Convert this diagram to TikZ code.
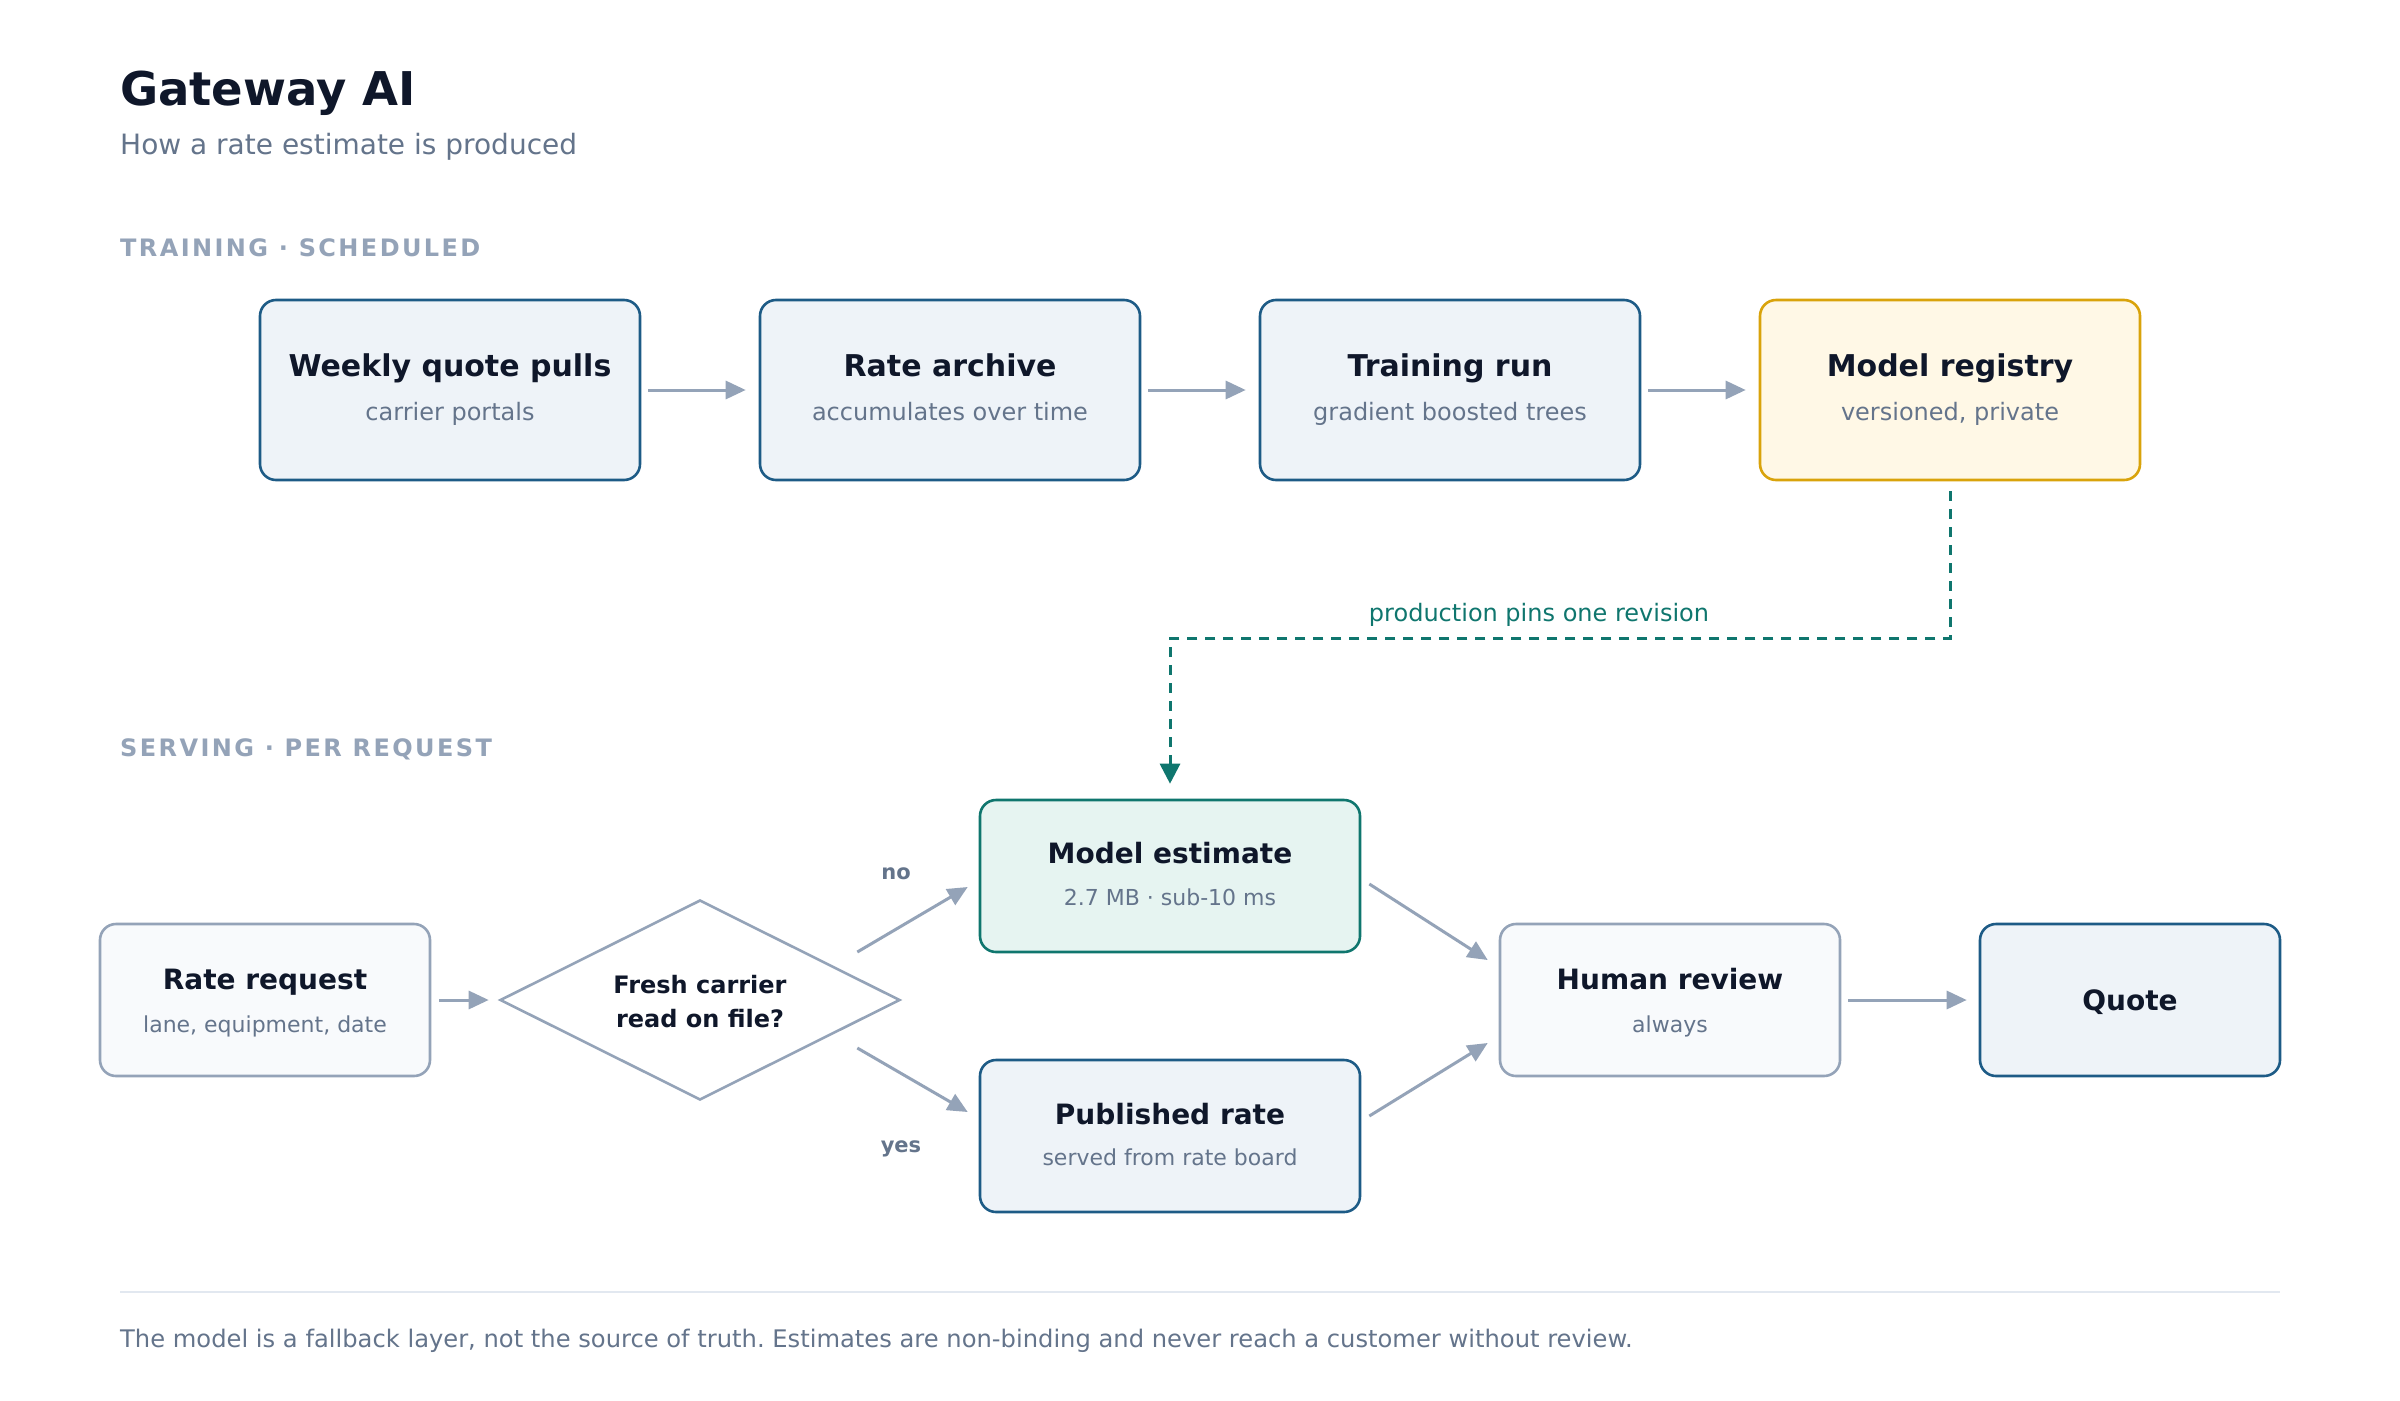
\documentclass[tikz,border=0pt]{standalone}
\usepackage{fontspec}
\setmainfont{DejaVu Sans}
\newfontfamily\lblfont[LetterSpace=10]{DejaVu Sans}
\usetikzlibrary{shapes.geometric,arrows.meta,calc}
\frenchspacing
\definecolor{ink}{HTML}{0F172A}
\definecolor{muted}{HTML}{64748B}
\definecolor{faint}{HTML}{94A3B8}
\definecolor{blueS}{HTML}{1D5B86}
\definecolor{blueF}{HTML}{EEF3F8}
\definecolor{amberS}{HTML}{D9A30B}
\definecolor{amberF}{HTML}{FFF8E6}
\definecolor{tealS}{HTML}{0F766E}
\definecolor{tealF}{HTML}{E6F4F1}
\definecolor{grayF}{HTML}{F8FAFC}
\definecolor{rulec}{HTML}{E2E8F0}
\begin{document}
\begin{tikzpicture}[x=1pt,y=-1pt,
  box/.style={draw, line width=2.6pt, rounded corners=16pt, inner sep=0pt},
  bluebox/.style={box, draw=blueS, fill=blueF},
  amberbox/.style={box, draw=amberS, fill=amberF},
  tealbox/.style={box, draw=tealS, fill=tealF},
  graybox/.style={box, draw=faint, fill=grayF},
  topsize/.style={minimum width=380pt, minimum height=180pt},
  botsize/.style={minimum height=152pt},
  txt/.style={anchor=base, inner sep=0pt},
  ttlA/.style={txt, text=ink, font=\fontsize{30}{36}\selectfont\bfseries},
  subA/.style={txt, text=muted, font=\fontsize{24}{29}\selectfont},
  ttlB/.style={txt, text=ink, font=\fontsize{28}{34}\selectfont\bfseries},
  subB/.style={txt, text=muted, font=\fontsize{22}{27}\selectfont},
  seclbl/.style={anchor=base west, inner sep=0pt, text=faint, font=\fontsize{24}{29}\lblfont\bfseries},
  branch/.style={txt, text=muted, font=\fontsize{21}{25}\selectfont\bfseries},
  arr/.style={draw=faint, line width=3pt, -{Triangle[length=20pt,width=18pt]}},
  pin/.style={draw=tealS, line width=3pt, dash pattern=on 10pt off 8pt, -{Triangle[length=20pt,width=20pt]}}
]
\useasboundingbox[fill=white] (0,0) rectangle (2400,1400);

% header
\node[anchor=base west, inner sep=0pt, text=ink, font=\fontsize{46.5}{56}\selectfont\bfseries] (title) at (120,105) {Gateway AI};
\node[anchor=base west, inner sep=0pt, text=muted, font=\fontsize{28}{34}\selectfont] (subtitle) at (120,154) {How a rate estimate is produced};

% training row
\node[seclbl] (sec1) at (120,256) {TRAINING · SCHEDULED};
\node[bluebox, topsize] (wqp) at (450,390) {};
\node[bluebox, topsize] (ra) at (950,390) {};
\node[bluebox, topsize] (tr) at (1450,390) {};
\node[amberbox, topsize] (mreg) at (1950,390) {};
\node[ttlA] (wqp-t) at (450,376) {Weekly quote pulls};
\node[subA] (wqp-s) at (450,420) {carrier portals};
\node[ttlA] (ra-t) at (950,376) {Rate archive};
\node[subA] (ra-s) at (950,420) {accumulates over time};
\node[ttlA] (tr-t) at (1450,376) {Training run};
\node[subA] (tr-s) at (1450,420) {gradient boosted trees};
\node[ttlA] (mreg-t) at (1950,376) {Model registry};
\node[subA] (mreg-s) at (1950,420) {versioned, private};

\draw[arr, shorten <=7pt, shorten >=13pt] (wqp.east) -- (ra.west);
\draw[arr, shorten <=7pt, shorten >=13pt] (ra.east) -- (tr.west);
\draw[arr, shorten <=7pt, shorten >=13pt] (tr.east) -- (mreg.west);

% serving row
\node[seclbl] (sec2) at (120,756) {SERVING · PER REQUEST};
\node[graybox, botsize, minimum width=330pt] (rr) at (265,1000) {};
\node[ttlB] (rr-t) at (265,989) {Rate request};
\node[subB] (rr-s) at (265,1032) {lane, equipment, date};

\node[diamond, draw=faint, line width=2.6pt, fill=white, inner sep=0pt, minimum width=400pt, minimum height=200pt] (dec) at (700,1000) {};
\node[txt, text=ink, font=\fontsize{24}{29}\selectfont\bfseries] (dec-t1) at (700,993) {Fresh carrier};
\node[txt, text=ink, font=\fontsize{24}{29}\selectfont\bfseries] (dec-t2) at (700,1027) {read on file?};

\node[tealbox, botsize, minimum width=380pt] (me) at (1170,876) {};
\node[ttlB] (me-t) at (1170,863) {Model estimate};
\node[subB] (me-s) at (1170,905) {2.7 MB · sub-10 ms};

\node[bluebox, botsize, minimum width=380pt] (pr) at (1170,1136) {};
\node[ttlB] (pr-t) at (1170,1124) {Published rate};
\node[subB] (pr-s) at (1170,1165) {served from rate board};

\node[graybox, botsize, minimum width=340pt] (hr) at (1670,1000) {};
\node[ttlB] (hr-t) at (1670,989) {Human review};
\node[subB] (hr-s) at (1670,1032) {always};

\node[bluebox, botsize, minimum width=300pt] (q) at (2130,1000) {};
\node[ttlB] (q-t) at (2130,1010) {Quote};

\draw[arr, shorten <=8pt, shorten >=10pt] (rr.east) -- (dec.west);
\draw[arr] ($(dec.east)+(-44,-48)$) -- ($(me.west)+(-11,11)$);
\draw[arr] ($(dec.east)+(-44,48)$) -- ($(pr.west)+(-11,-24)$);
\node[branch] (no) at (896,879) {no};
\node[branch] (yes) at (901,1152) {yes};
\draw[arr] ($(me.east)+(8,8)$) -- ($(hr.west)+(-11,-40)$);
\draw[arr] ($(pr.east)+(8,-20)$) -- ($(hr.west)+(-11,43)$);
\draw[arr, shorten <=7pt, shorten >=12pt] (hr.east) -- (q.west);

% registry pin
\draw[pin] ($(mreg.south)+(0,10)$) |- ($(me.north)+(0,-160)$) -- ($(me.north)+(0,-15)$);
\node[txt, text=tealS, font=\fontsize{24}{29}\selectfont] (pinlbl) at (1539,621) {production pins one revision};

% footer
\coordinate (fl) at (120,1292);
\coordinate (fr) at (2280,1292);
\draw[rulec, line width=2pt] (fl) -- (fr);
\node[anchor=base west, inner sep=0pt, text=muted, font=\fontsize{24.2}{29}\selectfont] (foot) at (120,1347) {The model is a fallback layer, not the source of truth. Estimates are non-binding and never reach a customer without review.};
\end{tikzpicture}
\end{document}
